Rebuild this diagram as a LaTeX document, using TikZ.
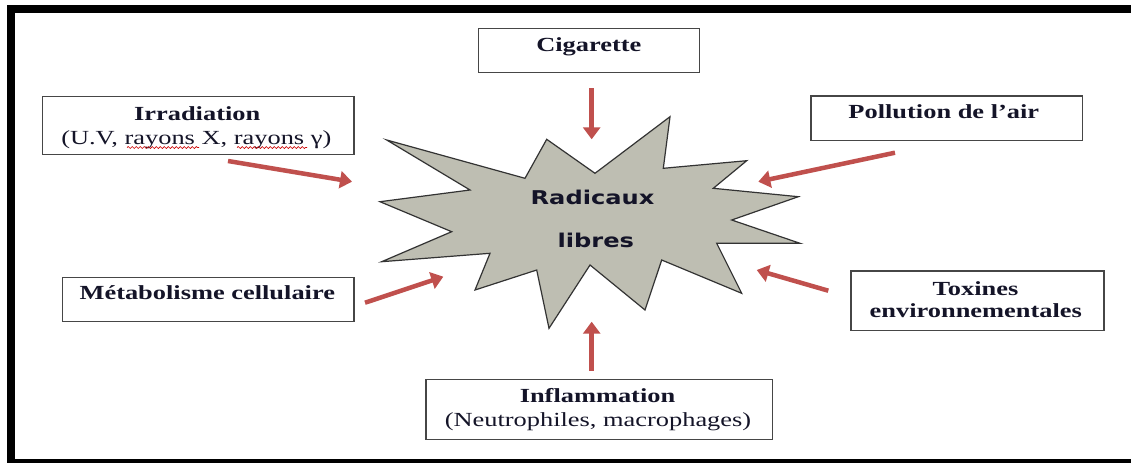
\documentclass[tikz,border=0pt]{standalone}
\usepackage{fontspec}
\usetikzlibrary{arrows.meta,decorations.pathmorphing}
\newfontfamily\boxfont[FakeStretch=1.32]{Liberation Serif}
\newfontfamily\starfont[FakeStretch=1.27]{DejaVu Sans}
\definecolor{arrowred}{RGB}{192,80,77}
\definecolor{stargray}{RGB}{190,190,178}
\definecolor{boxline}{RGB}{70,70,70}
\definecolor{ink}{RGB}{20,20,40}
\begin{document}
\begin{tikzpicture}[x=1pt,y=-1pt,
  box/.style={draw=boxline,line width=1.5pt,inner sep=0pt,fill=white},
  lbl/.style={inner sep=0pt,anchor=base,text=ink,font=\boxfont\fontsize{20}{24}\selectfont},
  startxt/.style={inner sep=0pt,anchor=base,text=ink,font=\starfont\bfseries\fontsize{19}{23}\selectfont},
  feed/.style={draw=arrowred,line width=4.5pt,-{Triangle[width=17pt,length=12pt]}},
  wavy/.style={draw=red!80!black,line width=0.7pt,decorate,decoration={snake,amplitude=1pt,segment length=4pt}}]
\useasboundingbox (0,0) rectangle (1131,463);
\fill[white] (0,0) rectangle (1131,463);
% frame
\fill[black] (7,5) rectangle (1131,13);
\fill[black] (7,5) rectangle (15,463);
\fill[black] (7,459) rectangle (1131,463);
% star
\filldraw[fill=stargray,draw=black!80,line width=1.2pt,line join=miter]
  (386.7,140) -- (525,178.3) -- (546.7,139.3) -- (595,173.3) -- (670,116.7)
  -- (663.3,168.3) -- (746.7,160.7) -- (713.3,188.3) -- (798.3,196.7)
  -- (731.7,220) -- (800,243.3) -- (716.7,243.3) -- (741.7,293.3)
  -- (661.7,260) -- (645,310) -- (590,265) -- (549,328.3) -- (536.7,270)
  -- (475,290) -- (490,253.3) -- (381.7,261.7) -- (451.7,231.7)
  -- (380,201.7) -- (470,190) -- cycle;
\node[startxt] (rad) at (592.5,204.3) {Radicaux};
\node[startxt] (lib) at (595.8,247.3) {libres};
% boxes
\node[box,minimum width=311.3pt,minimum height=57.6pt] (irr) at (198.3,125.5) {};
\node[lbl] (irr1) at (197.2,120.7) {\bfseries Irradiation};
\node[lbl] (irr2) at (196.3,144) {(U.V, rayons X, rayons γ)};
\draw[wavy] (127,147.5) -- (199,147.5);
\draw[wavy] (237,147.5) -- (307,147.5);

\node[box,minimum width=221pt,minimum height=44.4pt] (cig) at (588.8,50.5) {};
\node[lbl] (cig1) at (588.8,51) {\bfseries Cigarette};

\node[box,minimum width=271.3pt,minimum height=44.7pt] (pol) at (946.7,118.3) {};
\node[lbl] (pol1) at (943.8,118.3) {\bfseries Pollution de l’air};

\node[box,minimum width=291.7pt,minimum height=44.4pt] (met) at (208.2,299.5) {};
\node[lbl] (met1) at (207.3,299.3) {\bfseries Métabolisme cellulaire};

\node[box,minimum width=253pt,minimum height=59.7pt] (tox) at (977.5,300.8) {};
\node[lbl] (tox1) at (975.5,295) {\bfseries Toxines};
\node[lbl] (tox2) at (975.8,317.7) {\bfseries environnementales};

\node[box,minimum width=346.7pt,minimum height=60pt] (inf) at (599.3,409.3) {};
\node[lbl] (inf1) at (597.5,402.5) {\bfseries Inflammation};
\node[lbl] (inf2) at (598,426) {(Neutrophiles, macrophages)};
% arrow end points
\coordinate (cigA) at (591.7,88.3);  \coordinate (cigB) at (591.7,139.3);
\coordinate (irrA) at (228,161);     \coordinate (irrB) at (352,181.7);
\coordinate (polA) at (895,152.7);   \coordinate (polB) at (758.3,181.7);
\coordinate (metA) at (365,302.7);   \coordinate (metB) at (443.3,276.7);
\coordinate (toxA) at (828.3,290.7); \coordinate (toxB) at (756.7,270);
\coordinate (infA) at (591.7,370.7); \coordinate (infB) at (591.7,321.7);
\draw[feed] (cigA) -- (cigB);
\draw[feed] (irrA) -- (irrB);
\draw[feed] (polA) -- (polB);
\draw[feed] (metA) -- (metB);
\draw[feed] (toxA) -- (toxB);
\draw[feed] (infA) -- (infB);
\end{tikzpicture}
\end{document}
